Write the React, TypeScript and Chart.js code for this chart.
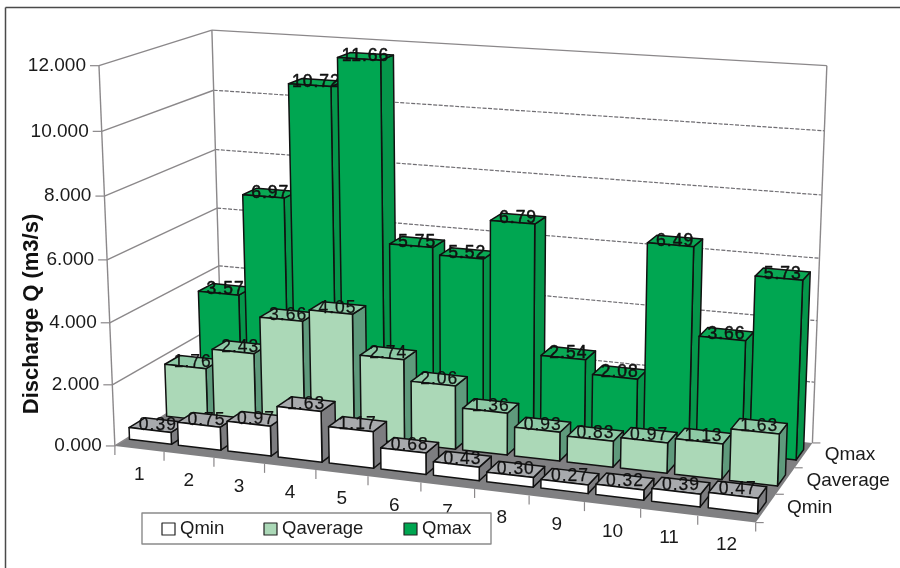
import React, { useEffect, useRef } from "react";
import { Chart, registerables } from "chart.js";

Chart.register(...registerables);

const months = ["1", "2", "3", "4", "5", "6", "7", "8", "9", "10", "11", "12"];
const seriesNames = ["Qmin", "Qaverage", "Qmax"];
const qMin = [0.39, 0.75, 0.97, 1.63, 1.17, 0.68, 0.43, 0.3, 0.27, 0.32, 0.39, 0.47];
const qAverage = [1.76, 2.43, 3.66, 4.05, 2.74, 2.06, 1.36, 0.93, 0.83, 0.97, 1.13, 1.63];
const qMax = [3.57, 6.97, 10.72, 11.66, 5.75, 5.52, 6.79, 2.54, 2.08, 6.49, 3.66, 5.73];

const frontColors = ["#ffffff", "#abd8b7", "#00a651"];
const sideColors = ["#7d7d80", "#5f9a7c", "#05964a"];
const topColors = ["#a8aaad", "#8dc9a5", "#0aa854"];

const FONT = '"Liberation Sans", Arial, sans-serif';
const GRID = "#8b888a";

// Camera: where points of the (category, depth, height) unit box land on the page.
const boxCorners: number[][] = [
  [0, 0, 0, 115, 443],
  [1, 0, 0, 757, 525],
  [0.5, 0, 0, 419.5, 482],
  [0, 1, 0, 222.5, 383],
  [1, 1, 0, 812, 440],
  [0, 0, 1, 99, 67],
  [0, 1, 1, 212, 28],
  [1, 1, 1, 826.7, 66.7],
];

function fitCamera(pts: number[][]) {
  const n = 11;
  const A: number[][] = Array.from({ length: n }, () => new Array(n + 1).fill(0));
  const add = (row: number[], rhs: number) => {
    for (let i = 0; i < n; i++) {
      for (let j = 0; j < n; j++) A[i][j] += row[i] * row[j];
      A[i][n] += row[i] * rhs;
    }
  };
  for (const [u, w, t, X, Y] of pts) {
    add([u, w, t, 1, 0, 0, 0, 0, -u * X, -w * X, -t * X], X);
    add([0, 0, 0, 0, u, w, t, 1, -u * Y, -w * Y, -t * Y], Y);
  }
  for (let c = 0; c < n; c++) {
    let piv = c;
    for (let r = c + 1; r < n; r++) if (Math.abs(A[r][c]) > Math.abs(A[piv][c])) piv = r;
    [A[c], A[piv]] = [A[piv], A[c]];
    for (let r = 0; r < n; r++) {
      if (r === c) continue;
      const f = A[r][c] / A[c][c];
      for (let k = c; k <= n; k++) A[r][k] -= f * A[c][k];
    }
  }
  const m = A.map((row, i) => row[n] / row[i]);
  return (u: number, w: number, t: number): [number, number] => {
    const d = m[8] * u + m[9] * w + m[10] * t + 1;
    return [
      (m[0] * u + m[1] * w + m[2] * t + m[3]) / d,
      (m[4] * u + m[5] * w + m[6] * t + m[7]) / d,
    ];
  };
}
const project = fitCamera(boxCorners);

function poly(ctx: CanvasRenderingContext2D, pts: [number, number][], fill: string | null, stroke: string | null, lw = 1.5) {
  ctx.beginPath();
  pts.forEach((p, i) => (i ? ctx.lineTo(p[0], p[1]) : ctx.moveTo(p[0], p[1])));
  ctx.closePath();
  if (fill) {
    ctx.fillStyle = fill;
    ctx.fill();
  }
  if (stroke) {
    ctx.strokeStyle = stroke;
    ctx.lineWidth = lw;
    ctx.lineJoin = "round";
    ctx.stroke();
  }
}

function seg(ctx: CanvasRenderingContext2D, a: [number, number], b: [number, number], color: string, lw = 1.3, dash: number[] = []) {
  ctx.beginPath();
  ctx.setLineDash(dash);
  ctx.moveTo(a[0], a[1]);
  ctx.lineTo(b[0], b[1]);
  ctx.strokeStyle = color;
  ctx.lineWidth = lw;
  ctx.stroke();
  ctx.setLineDash([]);
}

function text(ctx: CanvasRenderingContext2D, s: string, x: number, y: number, align: CanvasTextAlign, font: string, color = "#1a1a1a") {
  ctx.font = font;
  ctx.textAlign = align;
  ctx.textBaseline = "middle";
  ctx.fillStyle = color;
  ctx.fillText(s, x, y);
}

const scene3d = {
  id: "scene3d",
  beforeDatasetsDraw(chart: any) {
    const { ctx, chartArea: area, scales } = chart;
    const yScale = scales.y;
    const xScale = scales.x;
    const heightOf = (px: number) => (area.bottom - px) / (area.bottom - area.top);
    const uOf = (px: number) => (px - area.left) / (area.right - area.left);

    ctx.save();

    // page frame
    seg(ctx, [5.5, 7.5], [900, 7.5], "#4a4a4a", 1.5);
    seg(ctx, [5.5, 7.5], [5.5, 568], "#4a4a4a", 1.5);

    // floor
    poly(ctx, [project(0, 0, 0), project(1, 0, 0), project(1, 1, 0), project(0, 1, 0)], "#808082", null);

    // walls and value grid
    yScale.ticks.forEach((tick: any) => {
      const t = heightOf(yScale.getPixelForValue(tick.value));
      const front = project(0, 0, t);
      const back = project(0, 1, t);
      const right = project(1, 1, t);
      seg(ctx, front, back, GRID, 1.4);
      if (t > 0.001) seg(ctx, back, right, t > 0.999 ? GRID : "#6f6d72", t > 0.999 ? 1.4 : 1.2, t > 0.999 ? [] : [4, 1.5]);
      seg(ctx, [front[0] - 9, front[1]], front, GRID, 1.2);
      text(ctx, tick.value.toFixed(3), front[0] - 13, front[1], "right", `19px ${FONT}`);
    });
    seg(ctx, project(0, 0, 0), project(0, 0, 1), GRID, 1.4);
    seg(ctx, project(0, 1, 0), project(0, 1, 1), GRID, 1.4);
    seg(ctx, project(1, 1, 0), project(1, 1, 1), GRID, 1.4);

    // axis title
    ctx.save();
    ctx.translate(32, 314);
    ctx.rotate(-Math.PI / 2);
    text(ctx, "Discharge Q (m3/s)", 0, 0, "center", `bold 22px ${FONT}`, "#111");
    ctx.restore();

    // category ticks and labels
    const bands = months.length;
    for (let i = 0; i <= bands; i++) {
      const p = project(i / bands, 0, 0);
      seg(ctx, p, [p[0], p[1] + 9], GRID, 1.2);
    }
    months.forEach((m, i) => {
      const p = project(uOf(xScale.getPixelForValue(i)), 0, 0);
      text(ctx, m, p[0], p[1] + 26, "center", `19px ${FONT}`);
    });

    // depth ticks and labels
    const rows = seriesNames.length;
    for (let s = 0; s <= rows; s++) {
      const p = project(1, s / rows, 0);
      seg(ctx, p, [p[0] + 8, p[1]], GRID, 1.2);
    }
    seriesNames.forEach((name, s) => {
      const p = project(1, (s + 0.5) / rows, 0);
      text(ctx, name, p[0] + 21, p[1], "left", `19px ${FONT}`);
    });

    // bars, back row first, left to right
    for (let s = rows - 1; s >= 0; s--) {
      const meta = chart.getDatasetMeta(s);
      const values = chart.data.datasets[s].data as number[];
      const w0 = (s + 0.5) / rows - 0.07;
      const w1 = (s + 0.5) / rows + 0.07;
      meta.data.forEach((el: any, i: number) => {
        const half = el.width / 2;
        const u0 = uOf(el.x - half);
        const u1 = uOf(el.x + half);
        const t = heightOf(el.y);
        poly(ctx, [project(u1, w0, 0), project(u1, w1, 0), project(u1, w1, t), project(u1, w0, t)], sideColors[s], "#111");
        poly(ctx, [project(u0, w0, t), project(u1, w0, t), project(u1, w1, t), project(u0, w1, t)], topColors[s], "#111");
        poly(ctx, [project(u0, w0, 0), project(u1, w0, 0), project(u1, w0, t), project(u0, w0, t)], frontColors[s], "#111");
        const c = project((u0 + u1) / 2, (w0 + w1) / 2, t);
        (ctx as any).letterSpacing = "1px";
        text(ctx, values[i].toFixed(2), c[0], c[1], "center", `17.5px ${FONT}`, "#111");
        ctx.lineWidth = s === 2 ? 0.5 : 0.25;
        ctx.strokeStyle = "#111";
        ctx.strokeText(values[i].toFixed(2), c[0], c[1]);
        (ctx as any).letterSpacing = "0px";
      });
    }

    // legend box
    const box = { x: 142, y: 513, w: 349, h: 31 };
    ctx.fillStyle = "#ffffff";
    ctx.fillRect(box.x, box.y, box.w, box.h);
    ctx.strokeStyle = "#8a8a8a";
    ctx.lineWidth = 1.4;
    ctx.strokeRect(box.x, box.y, box.w, box.h);
    const legendStarts = [162, 264, 404];
    seriesNames.forEach((name, s) => {
      const lx = legendStarts[s];
      ctx.fillStyle = frontColors[s];
      ctx.fillRect(lx, 523, 13, 12);
      ctx.strokeStyle = "#222";
      ctx.lineWidth = 1.2;
      ctx.strokeRect(lx, 523, 13, 12);
      text(ctx, name, lx + 18, 529, "left", `18.5px ${FONT}`);
    });

    ctx.restore();
    return false; // the bars were drawn above, in perspective
  },
};

export default function App() {
  const ref = useRef<HTMLCanvasElement>(null);
  useEffect(() => {
    const chart = new Chart(ref.current as HTMLCanvasElement, {
      type: "bar",
      data: {
        labels: months,
        datasets: [qMin, qAverage, qMax].map((data, s) => ({
          label: seriesNames[s],
          data,
          backgroundColor: frontColors[s],
          borderColor: "#111",
          grouped: false,
          categoryPercentage: 0.86,
          barPercentage: 1,
        })),
      },
      options: {
        responsive: false,
        devicePixelRatio: 1,
        animation: false,
        layout: { padding: { left: 115, right: 143, top: 67, bottom: 125 } },
        plugins: { legend: { display: false }, tooltip: { enabled: false } },
        scales: {
          x: { type: "category", display: false },
          y: { type: "linear", display: false, min: 0, max: 12, ticks: { stepSize: 2 } },
        },
      },
      plugins: [scene3d],
    } as any);
    return () => chart.destroy();
  }, []);
  return (
    <div style={{ position: "fixed", left: 0, top: 0, width: 900, height: 568, background: "#fff" }}>
      <canvas ref={ref} width={900} height={568} style={{ display: "block" }} />
    </div>
  );
}
